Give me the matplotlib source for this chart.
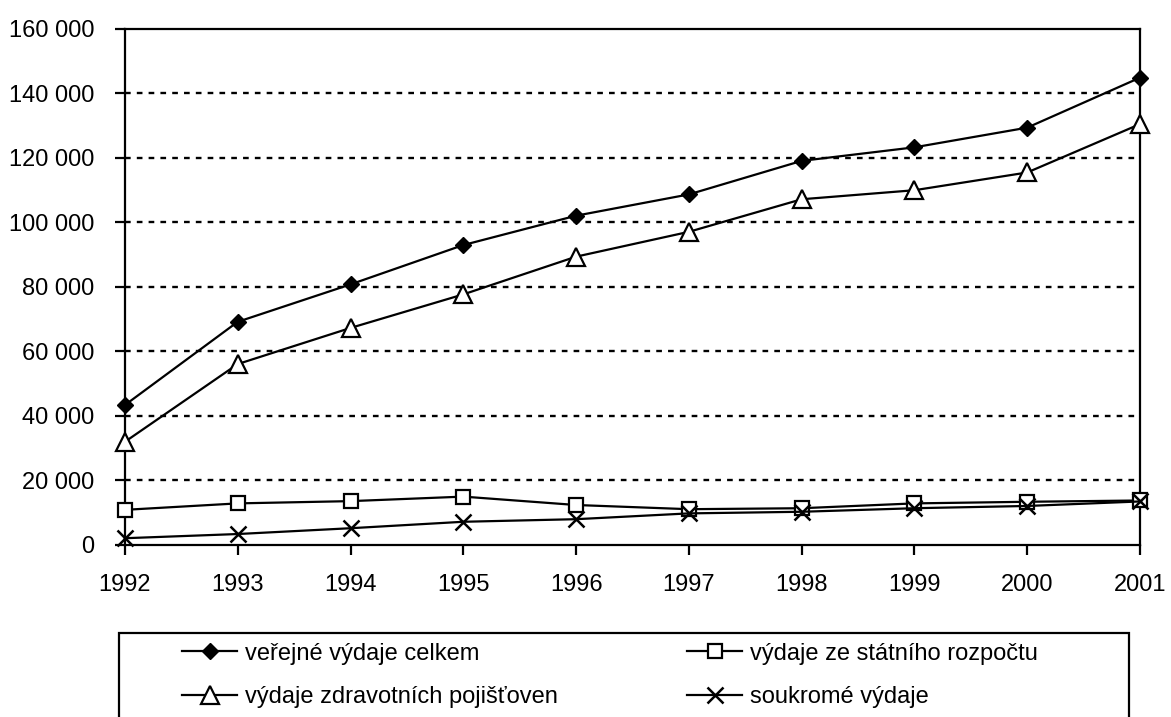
import numpy as np
import matplotlib.pyplot as plt
from matplotlib.patches import Rectangle
from matplotlib.ticker import FuncFormatter

years = [1992, 1993, 1994, 1995, 1996, 1997, 1998, 1999, 2000, 2001]
verejne = [43400, 69200, 80800, 93000, 102100, 108700, 119100, 123300, 129400, 144900]
rozpocet = [10900, 12900, 13600, 15000, 12400, 11100, 11400, 12900, 13400, 13800]
pojistovny = [32000, 56100, 67300, 77700, 89400, 97100, 107200, 110000, 115500, 130500]
soukrome = [2100, 3400, 5200, 7200, 8000, 9800, 10300, 11400, 12100, 13500]

labels = ['veřejné výdaje celkem', 'výdaje ze státního rozpočtu',
          'výdaje zdravotních pojišťoven', 'soukromé výdaje']

plt.rcParams['font.family'] = ['Liberation Sans', 'DejaVu Sans']

fig = plt.figure(figsize=(11.71, 7.17), dpi=100)
ax = fig.add_axes([0.1067, 0.2399, 0.8668, 0.7197])

x = np.arange(len(years))
lw = 1.6
l1, = ax.plot(x, verejne, color='black', lw=lw, marker='D', ms=8.5,
              mfc='black', mec='black', clip_on=False, zorder=4)
l2, = ax.plot(x, rozpocet, color='black', lw=lw, marker='s', ms=9.5,
              mfc='white', mec='black', mew=1.6, clip_on=False, zorder=4)
l3, = ax.plot(x, pojistovny, color='black', lw=lw, marker='^', ms=12.5,
              mfc='white', mec='black', mew=1.6, clip_on=False, zorder=4)
l4, = ax.plot(x, soukrome, color='black', lw=lw, marker='x', ms=12,
              mec='black', mew=1.8, clip_on=False, zorder=4)

ax.set_xlim(0, len(years) - 1)
ax.set_ylim(0, 160000)
ax.set_yticks(np.arange(0, 160001, 20000))
ax.yaxis.set_major_formatter(FuncFormatter(lambda v, p: '{:,}'.format(int(v)).replace(',', ' ')))
ax.set_xticks(x)
ax.set_xticklabels([str(y) for y in years])

# dotted gridlines
for v in np.arange(20000, 140001, 20000):
    ax.axhline(v, color='black', lw=1.7, ls=(0, (2.4, 2.6)), zorder=1)

for s in ax.spines.values():
    s.set_linewidth(1.6)
ax.tick_params(axis='both', direction='out', length=7, width=1.6,
               labelsize=17, color='black')
ax.tick_params(axis='x', pad=14)
ax.tick_params(axis='y', pad=15)

# legend frame, bottom edge falls outside the figure
fig.patches.append(Rectangle((119 / 1171, -0.05), 1010 / 1171, 0.05 + 1 - 633 / 717,
                             transform=fig.transFigure, fill=False,
                             edgecolor='black', lw=1.6, clip_on=False))

legkw = dict(loc='center left', frameon=False, borderpad=0, borderaxespad=0,
             handlelength=2.35, handletextpad=0.3, labelspacing=0.93,
             prop={'size': 17})
leg1 = fig.legend([l1, l3], [labels[0], labels[2]],
                  bbox_to_anchor=(182 / 1171, 1 - 675.5 / 717), **legkw)
leg2 = fig.legend([l2, l4], [labels[1], labels[3]],
                  bbox_to_anchor=(687 / 1171, 1 - 675.5 / 717), **legkw)

fig.savefig('out.png', dpi=100)
